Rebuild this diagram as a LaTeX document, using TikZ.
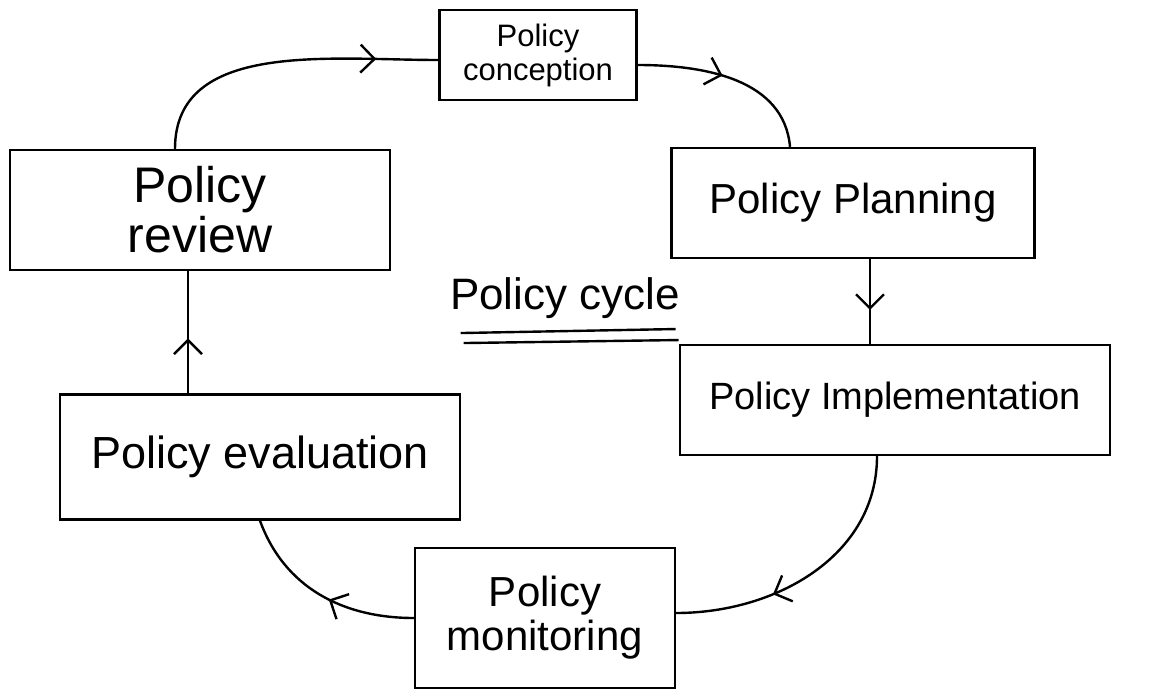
\documentclass[tikz,border=0pt]{standalone}
\usepackage{fontspec}
\setmainfont{Liberation Sans}
\usetikzlibrary{arrows.meta,decorations.markings}
\begin{document}
\begin{tikzpicture}[x=1pt, y=-1pt, line width=2.4pt,
  box/.style={draw, rectangle, align=center, inner sep=4pt, line width=2.4pt},
  flow/.style={line width=2.4pt, decoration={markings,
      mark=at position #1 with {\arrow{Straight Barb[length=14pt,width=28pt,line width=2.4pt]}}},
    postaction={decorate}},
  flow/.default=0.5]
  \useasboundingbox (0,0) rectangle (1175,688);
  \node (con) [box, minimum width=197pt, minimum height=90pt, font=\fontsize{31}{34}\selectfont]
              at (538,55) {Policy\\conception};
  \node (rev) [box, minimum width=380pt, minimum height=120pt, font=\fontsize{50}{50}\selectfont]
              at (200,210) {Policy\\review};
  \node (pla) [box, minimum width=363pt, minimum height=110pt, font=\fontsize{42}{44}\selectfont]
              at (853,203) {Policy Planning};
  \node (imp) [box, minimum width=430pt, minimum height=110pt, font=\fontsize{38}{40}\selectfont]
              at (895,400) {Policy Implementation};
  \node (eva) [box, minimum width=400pt, minimum height=125pt, font=\fontsize{45}{48}\selectfont]
              at (260,457) {Policy evaluation};
  \node (mon) [box, minimum width=260pt, minimum height=140pt, font=\fontsize{42}{44}\selectfont]
              at (545,618) {Policy\\monitoring};
  \node (cyc) [font=\fontsize{44}{46}\selectfont] at (565,298) {Policy cycle};
  % double underline of the title
  \draw (cyc.south west) ++(15,10) coordinate (ul1) -- ++(215,-4);
  \draw (cyc.south west) ++(18,20) coordinate (ul2) -- ++(215,-3);
  % the cycle
  \draw[flow=0.8] ([xshift=-25pt]rev.north) to[out=90, in=180] ([yshift=-5pt]con.west);
  \draw[flow=0.45] ([yshift=-10pt]con.east) to[out=0, in=95] ([xshift=-63pt]pla.north);
  \draw[flow=0.6] ([xshift=17pt]pla.south) -- ([xshift=17pt]pla.south |- imp.north);
  \draw[flow=0.65] ([xshift=-18pt]imp.south) to[out=-90, in=0] ([yshift=5pt]mon.east);
  \draw[flow=0.45] (mon.west) to[out=180, in=-70] (eva.south);
  \draw[flow=0.45] ([xshift=-12pt]rev.south |- eva.north) -- ([xshift=-12pt]rev.south);
\end{tikzpicture}
\end{document}
